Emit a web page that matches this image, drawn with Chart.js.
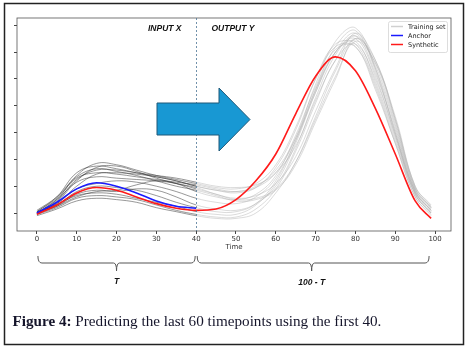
<!DOCTYPE html>
<html>
<head>
<meta charset="utf-8">
<script src="https://cdn.jsdelivr.net/npm/chart.js@4"></script>
<style>
  html, body { margin: 0; padding: 0; background: #fff; }
  canvas { display: block; }
</style>
</head>
<body>
<canvas id="grafico" width="469" height="348"></canvas>
<script>
const timeSteps = [0, 5, 10, 15, 20, 25, 30, 35, 40, 45, 50, 55, 60, 65, 70, 75, 80, 85, 90, 95, 99];
const inputSteps = [0, 5, 10, 15, 20, 25, 30, 35, 40];
const xTicks = [0, 10, 20, 30, 40, 50, 60, 70, 80, 90, 100];
const yTicks = [0, 1, 2, 3, 4, 5, 6, 7];

const anchor = [0.0, 0.4, 0.9, 1.13, 1.0, 0.75, 0.45, 0.25, 0.18];
const synthetic = [-0.05, 0.3, 0.75, 0.95, 0.85, 0.6, 0.35, 0.18, 0.1, 0.15, 0.5, 1.2, 2.2, 3.7, 5.1, 5.82, 5.3, 3.9, 2.2, 0.45, -0.2];

const trainA = [0, 0.5, 1.4, 1.85, 1.8, 1.6, 1.4, 1.25, 1.1, 0.95, 0.9, 1.1, 1.8, 3.2, 5.0, 6.2, 6.2, 4.6, 2.6, 0.6, -0.1];
const trainB = [0.05, 0.6, 1.5, 1.75, 1.65, 1.5, 1.35, 1.2, 1.0, 0.85, 0.8, 1.0, 1.6, 2.8, 4.6, 6.0, 6.5, 5.1, 2.9, 0.7, 0.0];
const trainC = [0, 0.45, 1.25, 1.6, 1.6, 1.5, 1.4, 1.3, 1.15, 1.0, 0.95, 1.05, 1.5, 2.5, 4.2, 5.7, 6.6, 5.5, 3.3, 0.9, 0.2];
const trainD = [-0.05, 0.4, 1.2, 1.7, 1.75, 1.55, 1.3, 1.1, 0.95, 0.7, 0.55, 0.65, 1.1, 2.1, 3.8, 5.4, 6.7, 5.7, 3.5, 1.0, 0.25];
const trainE = [0.05, 0.55, 1.3, 1.5, 1.45, 1.35, 1.25, 1.15, 1.05, 0.9, 0.8, 0.95, 1.5, 2.8, 4.8, 6.4, 6.9, 5.4, 3.0, 0.8, 0.1];
const trainF = [0, 0.35, 1.0, 1.45, 1.5, 1.45, 1.35, 1.2, 1.0, 0.85, 0.75, 0.95, 1.7, 3.1, 5.0, 6.3, 6.3, 4.8, 2.7, 0.7, 0.0];
const trainG = [0, 0.5, 1.15, 1.35, 1.3, 1.25, 1.2, 1.1, 0.9, 0.7, 0.5, 0.55, 0.9, 1.9, 3.5, 5.1, 6.4, 5.6, 3.6, 1.0, 0.3];
const trainH = [0.1, 0.6, 1.35, 1.65, 1.55, 1.4, 1.2, 1.0, 0.85, 0.65, 0.45, 0.5, 0.85, 1.8, 3.4, 5.0, 6.5, 5.7, 3.5, 0.95, 0.2];
const trainI = [0, 0.3, 0.65, 0.75, 0.7, 0.55, 0.4, 0.25, 0.05, -0.05, -0.05, 0.3, 1.1, 2.6, 4.5, 6.0, 6.4, 4.9, 2.8, 0.7, 0.0];
const trainJ = [-0.05, 0.2, 0.55, 0.65, 0.6, 0.5, 0.3, 0.1, -0.05, -0.15, -0.15, 0.15, 0.9, 2.3, 4.1, 5.7, 6.3, 5.0, 2.9, 0.75, 0.05];
const trainK = [0, 0.25, 0.7, 0.85, 0.8, 0.9, 0.85, 0.6, 0.3, 0.15, 0.1, 0.35, 1.0, 2.4, 4.3, 5.9, 6.6, 5.2, 3.1, 0.8, 0.1];
const trainL = [0.05, 0.3, 0.8, 1.0, 0.95, 0.85, 0.65, 0.4, 0.2, 0.05, 0.05, 0.35, 1.2, 2.7, 4.6, 6.2, 6.8, 5.3, 3.0, 0.8, 0.1];
const trainM = [-0.1, 0.15, 0.45, 0.55, 0.5, 0.4, 0.2, 0.05, -0.1, -0.2, -0.2, 0.0, 0.75, 1.9, 3.6, 5.3, 6.5, 5.6, 3.4, 0.9, 0.2];
const trainN = [0, 0.35, 0.9, 1.1, 1.2, 1.15, 1.0, 0.8, 0.55, 0.4, 0.35, 0.6, 1.3, 2.7, 4.5, 6.0, 6.7, 5.4, 3.2, 0.85, 0.15];
const trainO = [0, 0.25, 0.6, 0.8, 0.85, 1.05, 1.2, 1.1, 0.8, 0.6, 0.5, 0.7, 1.4, 2.9, 4.7, 6.1, 6.2, 4.7, 2.6, 0.6, -0.05];

const trainingSet = [trainA, trainB, trainC, trainD, trainE, trainF, trainG, trainH,
  trainI, trainJ, trainK, trainL, trainM, trainN, trainO];

const splitAt = 40;
const escuro = 'rgba(45, 45, 45, 0.55)';
const claro = 'rgba(175, 175, 175, 0.5)';

function pontos(xs, ys) {
  return ys.map((y, i) => ({ x: xs[i], y: y }));
}

const datasets = [
  {
    label: 'Synthetic',
    data: pontos(timeSteps, synthetic),
    borderColor: '#ff1a1a',
    borderWidth: 1.6,
    cubicInterpolationMode: 'monotone',
    order: 0
  },
  {
    label: 'Anchor',
    data: pontos(inputSteps, anchor),
    borderColor: '#1a1aff',
    borderWidth: 1.6,
    cubicInterpolationMode: 'monotone',
    order: 1
  }
].concat(trainingSet.map((serie, i) => ({
  label: i === 0 ? 'Training set' : '',
  data: pontos(timeSteps, serie),
  borderColor: claro,
  borderWidth: 0.9,
  order: 2,
  segment: {
    borderColor: ctx => ctx.p0.parsed.x < splitAt ? escuro : claro
  }
})));

// arrow, braces, texts, legend and frame
const extras = {
  id: 'extras',
  afterDraw(chart) {
    const { ctx, chartArea: a, scales: { x, y } } = chart;
    ctx.save();

    // axes box
    ctx.strokeStyle = '#555';
    ctx.lineWidth = 0.8;
    ctx.strokeRect(a.left, a.top, a.right - a.left, a.bottom - a.top);

    // split line
    const xs = Math.round(x.getPixelForValue(splitAt)) + 0.5;
    ctx.strokeStyle = '#4d7596';
    ctx.lineWidth = 0.8;
    ctx.setLineDash([2, 2]);
    ctx.beginPath();
    ctx.moveTo(xs, a.top);
    ctx.lineTo(xs, a.bottom);
    ctx.stroke();
    ctx.setLineDash([]);

    // INPUT X / OUTPUT Y
    ctx.fillStyle = '#111';
    ctx.font = 'italic bold 8.5px "Liberation Sans", Arial, sans-serif';
    ctx.textBaseline = 'middle';
    ctx.textAlign = 'right';
    ctx.fillText('INPUT X', xs - 15, 29);
    ctx.textAlign = 'left';
    ctx.fillText('OUTPUT Y', xs + 15, 29);

    // big arrow
    ctx.beginPath();
    ctx.moveTo(157, 103);
    ctx.lineTo(219, 103);
    ctx.lineTo(219, 88);
    ctx.lineTo(250, 119.5);
    ctx.lineTo(219, 151);
    ctx.lineTo(219, 135);
    ctx.lineTo(157, 135);
    ctx.closePath();
    ctx.fillStyle = '#1898d3';
    ctx.fill();
    ctx.strokeStyle = '#1f5878';
    ctx.lineWidth = 1;
    ctx.stroke();

    // legend
    ctx.fillStyle = 'rgba(255,255,255,0.85)';
    ctx.strokeStyle = '#d4d4d4';
    ctx.lineWidth = 0.8;
    ctx.beginPath();
    ctx.roundRect(388.5, 21.5, 59, 31, 2);
    ctx.fill();
    ctx.stroke();
    const itens = [['Training set', '#d0d0d0'], ['Anchor', '#1a1aff'], ['Synthetic', '#ff1a1a']];
    ctx.font = '6.5px "DejaVu Sans", sans-serif';
    ctx.textAlign = 'left';
    itens.forEach((it, i) => {
      const yy = 26.5 + i * 9;
      ctx.strokeStyle = it[1];
      ctx.lineWidth = 1.5;
      ctx.beginPath();
      ctx.moveTo(391, yy);
      ctx.lineTo(403, yy);
      ctx.stroke();
      ctx.fillStyle = '#222';
      ctx.fillText(it[0], 408, yy + 0.5);
    });

    // Time label
    ctx.fillStyle = '#333';
    ctx.font = '7px "DejaVu Sans", sans-serif';
    ctx.textAlign = 'center';
    ctx.fillText('Time', (a.left + a.right) / 2, 247);

    // braces
    const chave = (x0, x1, xm) => {
      const yt = 256, yb = 263, yd = 271;
      ctx.beginPath();
      ctx.moveTo(x0, yt);
      ctx.quadraticCurveTo(x0, yb, x0 + 4, yb);
      ctx.lineTo(xm - 3, yb);
      ctx.quadraticCurveTo(xm, yb, xm, yd);
      ctx.quadraticCurveTo(xm, yb, xm + 3, yb);
      ctx.lineTo(x1 - 4, yb);
      ctx.quadraticCurveTo(x1, yb, x1, yt);
      ctx.stroke();
    };
    ctx.strokeStyle = '#555';
    ctx.lineWidth = 1;
    chave(x.getPixelForValue(0) + 1, x.getPixelForValue(splitAt) - 1, x.getPixelForValue(20));
    chave(x.getPixelForValue(splitAt) + 1, x.getPixelForValue(98.5), x.getPixelForValue(69));

    ctx.fillStyle = '#111';
    ctx.font = 'italic bold 8.5px "Liberation Sans", Arial, sans-serif';
    ctx.fillText('T', x.getPixelForValue(20), 282);
    ctx.fillText('100 - T', x.getPixelForValue(69), 283);

    // caption
    ctx.textAlign = 'left';
    ctx.fillStyle = '#14142a';
    const rotulo = 'Figure 4:';
    const resto = ' Predicting the last 60 timepoints using the first 40.';
    ctx.font = 'bold 14px "Liberation Serif", serif';
    const w1 = ctx.measureText(rotulo).width;
    ctx.font = '14px "Liberation Serif", serif';
    const w2 = ctx.measureText(resto).width;
    const k = 369 / (w1 + w2);
    const fs = 14 * k;
    ctx.font = 'bold ' + fs + 'px "Liberation Serif", serif';
    ctx.fillText(rotulo, 12.5, 322);
    const w1b = ctx.measureText(rotulo).width;
    ctx.font = fs + 'px "Liberation Serif", serif';
    ctx.fillText(resto, 12.5 + w1b, 322);

    // outer frame
    ctx.strokeStyle = '#222';
    ctx.lineWidth = 1.5;
    ctx.strokeRect(4.5, 3.5, 459, 341);

    ctx.restore();
  }
};

new Chart(document.getElementById('grafico'), {
  type: 'line',
  data: { datasets: datasets },
  options: {
    responsive: false,
    animation: false,
    devicePixelRatio: 1,
    layout: { padding: { left: 14, top: 18, right: 18, bottom: 103 } },
    elements: {
      point: { radius: 0 },
      line: { tension: 0.4 }
    },
    plugins: {
      legend: { display: false },
      tooltip: { enabled: false }
    },
    scales: {
      x: {
        type: 'linear',
        min: -5,
        max: 104,
        afterBuildTicks: s => { s.ticks = xTicks.map(v => ({ value: v })); },
        afterFit: s => { s.height = 14; },
        ticks: { color: '#333', font: { size: 7, family: 'DejaVu Sans' }, padding: 1, maxRotation: 0 },
        grid: { drawOnChartArea: false, tickLength: 3, color: '#444' },
        border: { display: false }
      },
      y: {
        min: -0.67,
        max: 7.27,
        afterBuildTicks: s => { s.ticks = yTicks.map(v => ({ value: v })); },
        afterFit: s => { s.width = 3; },
        ticks: { display: false },
        grid: { drawOnChartArea: false, tickLength: 3, color: '#444' },
        border: { display: false }
      }
    }
  },
  plugins: [extras]
});
</script>
</body>
</html>
